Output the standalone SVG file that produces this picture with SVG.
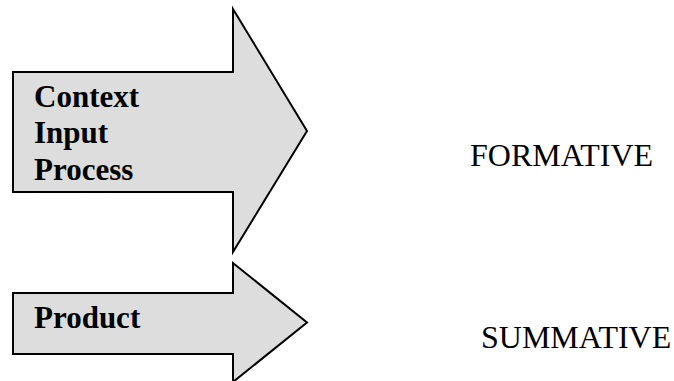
<svg xmlns="http://www.w3.org/2000/svg" width="674" height="381" viewBox="0 0 674 381">
<style>
.arrow{fill:#dddddd;stroke:#000;stroke-width:2;stroke-linejoin:miter}
.lbl{font-family:"Liberation Serif","Times New Roman",serif;font-size:31px;font-weight:bold;fill:#000}
.out{font-family:"Liberation Serif","Times New Roman",serif;font-size:32px;fill:#000}
</style>
<rect width="674" height="381" fill="#fff"/>
<g id="arrow-formative">
<polygon class="arrow" points="13,72 233,72 233,9 307,131 233,252 233,192 13,192"/>
<text class="lbl" x="34" y="107">Context</text>
<text class="lbl" x="34" y="143">Input</text>
<text class="lbl" x="34" y="180">Process</text>
</g>
<g id="arrow-summative">
<polygon class="arrow" points="13,293 233,293 233,263 307,322.5 233,382 233,354 13,354"/>
<text class="lbl" x="34" y="328">Product</text>
</g>
<g id="label-formative">
<text class="out" x="470" y="166">FORMATIVE</text>
</g>
<g id="label-summative">
<text class="out" x="481" y="348">SUMMATIVE</text>
</g>
<g id="connectors"></g>
</svg>
